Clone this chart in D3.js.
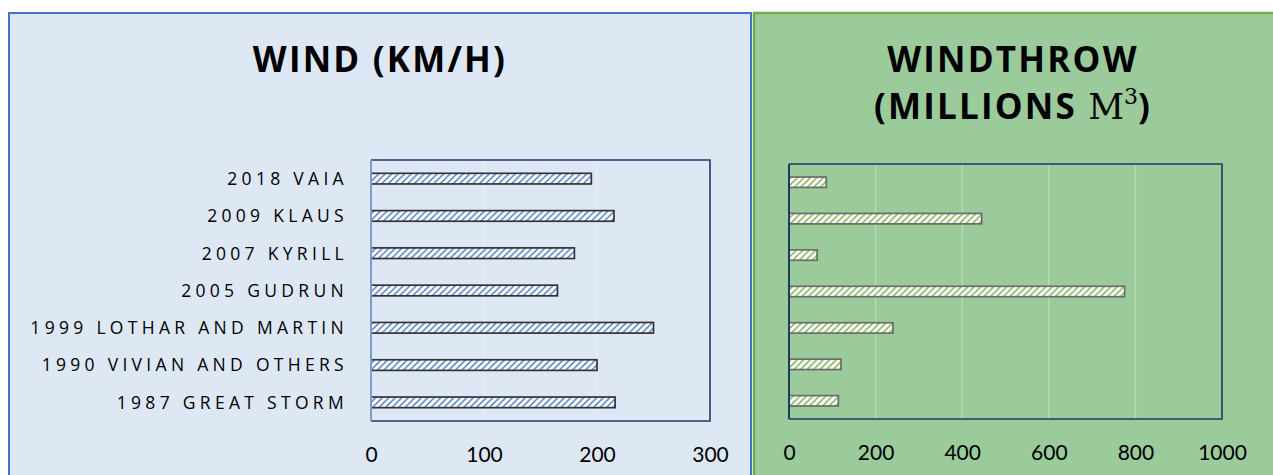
<!DOCTYPE html>
<html><head><meta charset="utf-8">
<script src="https://cdn.jsdelivr.net/npm/d3@7"></script>
<style>
html,body{margin:0;padding:0;background:#fff;}
svg{display:block;}
</style></head>
<body>
<svg id="chart" width="1273" height="475"></svg>
<script>
const categories = ["2018 VAIA","2009 KLAUS","2007 KYRILL","2005 GUDRUN","1999 LOTHAR AND MARTIN","1990 VIVIAN AND OTHERS","1987 GREAT STORM"];
const windKmh = [195, 215, 180, 165, 250, 200, 216];
const windthrowMm3 = [86, 445, 65, 775, 240, 120, 114];
const windTicks = [0, 100, 200, 300];
const windthrowTicks = [0, 200, 400, 600, 800, 1000];

const svg = d3.select("#chart");
const defs = svg.append("defs");
function hatch(id, color){
  const s = 6.5;
  const p = defs.append("pattern").attr("id", id).attr("patternUnits","userSpaceOnUse")
    .attr("width", s).attr("height", s);
  p.append("rect").attr("width",s).attr("height",s).attr("fill","#fff");
  p.append("path").attr("d",`M-1,${s+1} L${s+1},-1 M-1,1 L1,-1 M${s-1},${s+1} L${s+1},${s-1}`)
    .attr("stroke", color).attr("stroke-width", 1.4);
}
hatch("hBlue", "#4472C4");
hatch("hGreen", "#70AD47");

// Panels
svg.append("rect").attr("x",9).attr("y",13).attr("width",742).attr("height",470)
  .attr("fill","#DEE8F5").attr("stroke","#4472C4").attr("stroke-width",2);
svg.append("rect").attr("x",754).attr("y",13).attr("width",530).attr("height",470)
  .attr("fill","#9BCA9B").attr("stroke","#70AD47").attr("stroke-width",2.5);

// Titles
svg.append("text").attr("x",380).attr("y",72).attr("text-anchor","middle")
  .attr("font-family","Open Sans").attr("font-weight","bold").attr("font-size",35)
  .attr("letter-spacing",2.2).attr("fill","#000").text("WIND (KM/H)");
const t2 = svg.append("g").attr("font-family","Open Sans").attr("font-weight","bold").attr("font-size",35).attr("letter-spacing",2.2);
t2.append("text").attr("x",1013).attr("y",72).attr("text-anchor","middle").text("WINDTHROW");
const l2 = t2.append("text").attr("x",1013).attr("y",119).attr("text-anchor","middle");
l2.append("tspan").text("(MILLIONS ");
l2.append("tspan").attr("font-family","DejaVu Serif").attr("font-weight","normal").attr("font-size",35).attr("letter-spacing",0).text("M");
l2.append("tspan").attr("font-family","DejaVu Serif").attr("font-weight","normal").attr("font-size",22).attr("dy",-15).attr("letter-spacing",0).text("3");
l2.append("tspan").attr("dy",15).text(")");

function panel(cfg){
  const x = d3.scaleLinear().domain(cfg.domain).range([cfg.x0, cfg.x1]);
  const y = d3.scaleBand().domain(categories).range([cfg.y0, cfg.y1]).paddingInner(0.715).paddingOuter(0.3575);
  const g = svg.append("g");
  g.selectAll("line.grid").data(cfg.ticks.filter(t => t > cfg.domain[0] && t < cfg.domain[1])).join("line")
    .attr("x1", d => x(d)).attr("x2", d => x(d)).attr("y1", cfg.y0).attr("y2", cfg.y1)
    .attr("stroke", cfg.grid).attr("stroke-width", 1.5);
  g.selectAll("rect.bar").data(categories).join("rect")
    .attr("x", x(0)).attr("y", d => y(d))
    .attr("width", (d,i) => x(cfg.values[i]) - x(0)).attr("height", y.bandwidth())
    .attr("fill", `url(#${cfg.pattern})`).attr("stroke", cfg.barStroke).attr("stroke-width", 1.7);
  g.append("path").attr("d", `M${cfg.x0},${cfg.y0}H${cfg.x1}V${cfg.y1}H${cfg.x0}`)
    .attr("fill","none").attr("stroke","#1F3864").attr("stroke-width",1.6);
  g.append("line").attr("x1",cfg.x0).attr("x2",cfg.x0).attr("y1",cfg.y0).attr("y2",cfg.y1)
    .attr("stroke", cfg.axisColor).attr("stroke-width",2);
  const ax = g.append("g").attr("transform", `translate(0,${cfg.tickY})`)
    .call(d3.axisBottom(x).tickValues(cfg.ticks).tickSize(0).tickFormat(d3.format("d")));
  ax.select(".domain").remove();
  ax.selectAll("text").attr("font-family","Lato").attr("font-size",21).attr("fill","#000").attr("dy",0);
  if (cfg.labels){
    const ay = g.append("g").attr("transform", `translate(${cfg.labelX},0)`)
      .call(d3.axisLeft(y).tickSize(0));
    ay.select(".domain").remove();
    ay.selectAll("text").attr("font-family","Open Sans").attr("font-size",17.5)
      .attr("letter-spacing",4.3).attr("fill","#000").attr("dy","0.36em");
  }
}

panel({domain:[0,300], x0:371, x1:710, y0:160, y1:421, ticks:windTicks, values:windKmh,
  pattern:"hBlue", barStroke:"#333", grid:"#E6EDF7", axisColor:"#7D9BD1", tickY:459, labels:true, labelX:351});
panel({domain:[0,1000], x0:789, x1:1222, y0:164, y1:419, ticks:windthrowTicks, values:windthrowMm3,
  pattern:"hGreen", barStroke:"#6B6B6B", grid:"#B8DBB3", axisColor:"#1F3864", tickY:457, labels:false});
</script>
</body></html>
